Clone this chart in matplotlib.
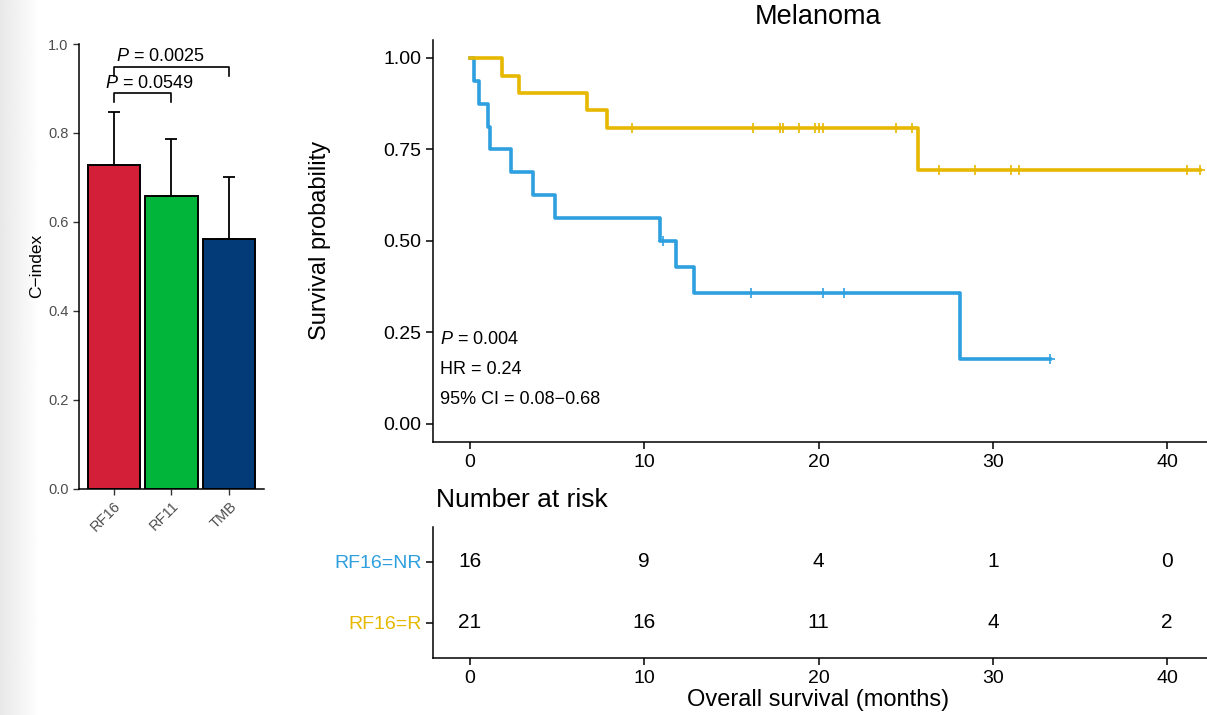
import numpy as np
import matplotlib
matplotlib.use("Agg")
import matplotlib.pyplot as plt

plt.rcParams['font.family'] = ['Liberation Sans', 'DejaVu Sans']
plt.rcParams['mathtext.fontset'] = 'custom'
plt.rcParams['mathtext.rm'] = 'Liberation Sans'
plt.rcParams['mathtext.it'] = 'Liberation Sans:italic'

# --- bar chart data (C-index) ---
models = ["RF16", "RF11", "TMB"]
cindex = [0.729, 0.659, 0.561]
cindex_upper = [0.848, 0.786, 0.701]
bar_colors = ["#D31F38", "#00B53A", "#033B78"]
pair_labels = ["0.0549", "0.0025"]

# --- Kaplan-Meier curves (months, survival) ---
nr_times = [0, 0.23, 0.53, 1.05, 1.15, 2.33, 3.6, 4.88, 10.9, 11.82, 12.85, 28.11, 33.28]
nr_surv = [1.0, 0.9375, 0.875, 0.8125, 0.75, 0.6875, 0.625, 0.5625, 0.5, 0.4286, 0.3571, 0.1786, 0.1786]
nr_censor = [11.05, 16.12, 20.27, 21.46, 33.28]

r_times = [0, 1.82, 2.81, 6.73, 7.84, 25.72, 41.88]
r_surv = [1.0, 0.952, 0.905, 0.857, 0.810, 0.694, 0.694]
r_censor = [9.28, 16.22, 17.79, 17.94, 18.88, 19.79, 20.0, 20.27, 24.42, 25.34,
            26.91, 28.97, 31.02, 31.52, 41.12, 41.88]

# --- number at risk ---
risk_times = [0, 10, 20, 30, 40]
risk_nr = [16, 9, 4, 1, 0]
risk_r = [21, 16, 11, 4, 2]

BLUE = "#2E9FDF"
YELLOW = "#E7B800"
GREY = "#4D4D4D"

fig = plt.figure(figsize=(12.07, 7.15), dpi=100)

# faint page shadow on the far left
bg = fig.add_axes([0, 0, 40 / 1207, 1], zorder=-5)
bg.imshow(np.linspace(0.91, 1.0, 64)[None, :], cmap="gray", vmin=0, vmax=1,
          aspect="auto", interpolation="bilinear")
bg.axis("off")

# ---------------- bar chart ----------------
ax = fig.add_axes([0.06545, 0.31650, 0.15327, 0.62196])
xpos = np.arange(1, len(models) + 1)
err = np.array(cindex_upper) - np.array(cindex)
ax.bar(xpos, cindex, width=0.9, color=bar_colors, edgecolor="black", linewidth=1.4, zorder=2)
ax.errorbar(xpos, cindex, yerr=[np.zeros(3), err], fmt="none", ecolor="black",
            elinewidth=1.3, capsize=4, capthick=1.3, zorder=1)
ax.set_xlim(0.4, 3.6)
ax.set_ylim(0, 1.0)
ax.set_yticks([0, 0.2, 0.4, 0.6, 0.8, 1.0])
ax.set_yticklabels(["0.0", "0.2", "0.4", "0.6", "0.8", "1.0"])
ax.set_xticks(xpos)
ax.set_xticklabels(models, rotation=45, ha="right", va="top", rotation_mode="anchor")
ax.tick_params(labelsize=10.5, labelcolor=GREY, color="#333333", length=4, width=1)
for s in ["top", "right"]:
    ax.spines[s].set_visible(False)
for s in ["left", "bottom"]:
    ax.spines[s].set_linewidth(1.1)
ax.set_ylabel("C\u2212index", fontsize=12.5)
ax.yaxis.set_label_coords(-0.19, 0.5)

# significance brackets
brackets = [(1, 2, 0.889, 0.870, 1.61, 0.912), (1, 3, 0.949, 0.928, 1.80, 0.971)]
for (x1, x2, yb, yl, tx, ty), lab in zip(brackets, pair_labels):
    ax.plot([x1, x1, x2, x2], [yl, yb, yb, yl], color="black", lw=1.2, clip_on=False)
    ax.text(tx, ty, r"$\it{P}$ = " + lab, ha="center", va="center", fontsize=13)

# ---------------- KM plot ----------------
km = fig.add_axes([0.35907, 0.38140, 0.64093, 0.56308])
for t, s, cens, col in [(nr_times, nr_surv, nr_censor, BLUE), (r_times, r_surv, r_censor, YELLOW)]:
    km.step(t, s, where="post", color=col, lw=2.6)
    idx = np.searchsorted(t, cens, side="right") - 1
    km.plot(cens, np.array(s)[idx], ls="none", marker="+", ms=7.5, mew=1.2, color=col)
km.set_xlim(-2.1, 42.29)
km.set_ylim(-0.05, 1.05)
km.set_yticks([0, 0.25, 0.5, 0.75, 1.0])
km.set_yticklabels(["0.00", "0.25", "0.50", "0.75", "1.00"])
km.set_xticks([0, 10, 20, 30, 40])
km.tick_params(labelsize=14, length=5, width=1.1, colors="black")
for s in ["top", "right"]:
    km.spines[s].set_visible(False)
for s in ["left", "bottom"]:
    km.spines[s].set_linewidth(1.1)
km.text(-1.72, 0.23, r"$\it{P}$ = 0.004", fontsize=13, va="center")
km.text(-1.72, 0.149, "HR = 0.24", fontsize=13, va="center")
km.text(-1.72, 0.068, "95% CI = 0.08\u22120.68", fontsize=13, va="center")
fig.text(818 / 1207, 1 - 17 / 715, "Melanoma", fontsize=19.5, ha="center", va="center")
fig.text(320 / 1207, 1 - 240 / 715, "Survival probability", fontsize=17,
         rotation=90, ha="center", va="center")

# ---------------- risk table ----------------
rt = fig.add_axes([0.35907, 0.07930, 0.64093, 0.18406])
for n, y in [(risk_nr, 2), (risk_r, 1)]:
    for t, v in zip(risk_times, n):
        rt.text(t, y, str(v), ha="center", va="center", fontsize=15)
rt.set_xlim(-2.1, 42.29)
rt.set_ylim(0.416, 2.574)
rt.set_xticks(risk_times)
rt.set_yticks([2, 1])
rt.set_yticklabels(["RF16=NR", "RF16=R"])
for lab, col in zip(rt.get_yticklabels(), [BLUE, YELLOW]):
    lab.set_color(col)
rt.tick_params(labelsize=14, length=5, width=1.1)
for s in ["top", "right"]:
    rt.spines[s].set_visible(False)
for s in ["left", "bottom"]:
    rt.spines[s].set_linewidth(1.1)
fig.text(436 / 1207, 1 - 500 / 715, "Number at risk", fontsize=19, ha="left", va="center")
fig.text(818 / 1207, 1 - 700 / 715, "Overall survival (months)", fontsize=17,
         ha="center", va="center")

fig.savefig("out.png", dpi=100)
